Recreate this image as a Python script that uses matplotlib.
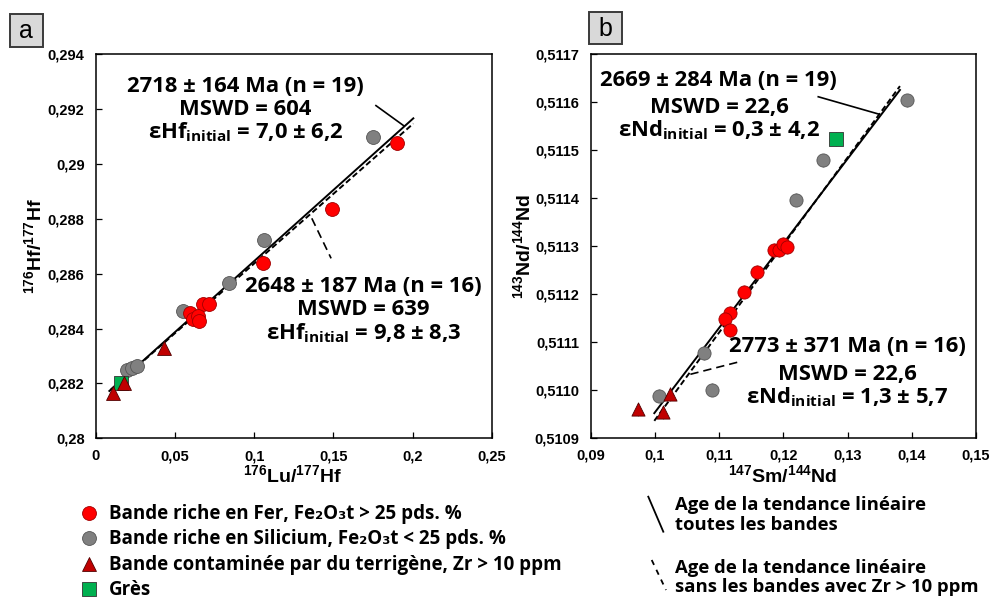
import matplotlib
matplotlib.use("Agg")
import matplotlib.pyplot as plt
from matplotlib.patches import Rectangle
from matplotlib.ticker import MultipleLocator, FuncFormatter

plt.rcParams.update({
    "font.family": ["Liberation Sans", "DejaVu Sans"],
    "font.weight": "bold",
    "mathtext.fontset": "custom",
    "mathtext.rm": "Open Sans:bold",
    "mathtext.bf": "Open Sans:bold",
    "mathtext.sf": "Liberation Sans:bold",
})

ANNOT_FONT = ["Open Sans", "DejaVu Sans"]

# --- Panel a : Lu-Hf -------------------------------------------------------
lu_fe_x = [0.1904, 0.1492, 0.1054, 0.0677, 0.0717, 0.0595, 0.0612, 0.0646, 0.0654]
hf_fe_y = [0.29076, 0.28837, 0.28638, 0.28489, 0.28489, 0.28456, 0.28435, 0.28446, 0.28428]
lu_si_x = [0.1751, 0.1064, 0.0844, 0.0549, 0.0200, 0.0232, 0.0262]
hf_si_y = [0.29097, 0.28724, 0.28566, 0.28465, 0.28249, 0.28256, 0.28264]
lu_zr_x = [0.0429, 0.0179, 0.0111]
hf_zr_y = [0.28328, 0.28203, 0.28166]
lu_gr_x = [0.0158]
hf_gr_y = [0.28200]

# fit lines (slope, intercept, x range)
hf_all_fit = (0.0518, 0.28128, (0.0086, 0.2005))
hf_nozr_fit = (0.0508, 0.28129, (0.0096, 0.2005))
hf_lead_all = ([0.1769, 0.1946], [0.29213, 0.29139])
hf_lead_nozr = ([0.1364, 0.1486], [0.28802, 0.28656])

# --- Panel b : Sm-Nd -------------------------------------------------------
sm_fe_x = [0.11858, 0.11925, 0.11987, 0.12059, 0.11596, 0.11389, 0.11163, 0.11086, 0.11163]
nd_fe_y = [0.511292, 0.511292, 0.511304, 0.511297, 0.511246, 0.511205, 0.511160, 0.511147, 0.511125]
sm_si_x = [0.13923, 0.1261, 0.1219, 0.1076, 0.1089, 0.1007]
nd_si_y = [0.511604, 0.511479, 0.511397, 0.511076, 0.511000, 0.510988]
sm_zr_x = [0.1023, 0.10133, 0.09742]
nd_zr_y = [0.510991, 0.510953, 0.510959]
sm_gr_x = [0.12826]
nd_gr_y = [0.511523]
nd_err = 0.000014

nd_all_fit = (0.01763, 0.509190, (0.0999, 0.13815))
nd_nozr_fit = (0.01826, 0.509111, (0.0999, 0.13815))
nd_lead_all = ([0.12543, 0.13481], [0.5116114, 0.5115754])
nd_lead_nozr = ([0.11281, 0.10508], [0.5110573, 0.5110308])

RED = "#ff0000"
GRAY = "#808080"
DRED = "#c00000"
GREEN = "#00b050"


def comma_fmt(fmt):
    return FuncFormatter(lambda v, p: fmt.format(v).replace(".", ","))


def draw_points(ax, groups, size):
    for x, y, marker, color, edge in groups:
        ax.scatter(x, y, s=size, marker=marker, color=color, edgecolors=edge,
                   linewidths=0.6, zorder=4)


def draw_fits(ax, fit_all, fit_nozr, lead_all, lead_nozr):
    for (m, b, (x0, x1)), ls, lw in [(fit_nozr, (0, (3, 1.6)), 1.4), (fit_all, "-", 1.4)]:
        ax.plot([x0, x1], [b + m * x0, b + m * x1], color="black", ls=ls, lw=lw, zorder=3)
    ax.plot(*lead_all, color="black", lw=1.2, zorder=3)
    ax.plot(*lead_nozr, color="black", lw=1.2, ls=(0, (5, 3)), zorder=3)


def style_axes(ax):
    for sp in ax.spines.values():
        sp.set_linewidth(1.1)
    ax.tick_params(direction="in", length=4, width=0.9, labelsize=10.5, pad=8)
    for lab in ax.get_xticklabels() + ax.get_yticklabels():
        lab.set_fontweight("bold")


def annot(ax, x, y, s):
    ax.text(x, y, s, transform=ax.transAxes, ha="center", va="baseline",
            fontsize=15.8, fontweight="bold", family=ANNOT_FONT, zorder=5)


fig = plt.figure(figsize=(9.91, 6.0), dpi=100)

# ---------------- panel a
ax1 = fig.add_axes([0.0966, 0.2695, 0.3996, 0.64])
draw_fits(ax1, hf_all_fit, hf_nozr_fit, hf_lead_all, hf_lead_nozr)
draw_points(ax1, [
    (lu_si_x, hf_si_y, "o", GRAY, "#555555"),
    (lu_fe_x, hf_fe_y, "o", RED, "#a00000"),
    (lu_gr_x, hf_gr_y, "s", GREEN, "#333333"),
    (lu_zr_x, hf_zr_y, "^", DRED, "#500000"),
], 100)
ax1.set_xlim(0, 0.25)
ax1.set_ylim(0.28, 0.294)
ax1.xaxis.set_major_locator(MultipleLocator(0.05))
ax1.yaxis.set_major_locator(MultipleLocator(0.002))
ax1.xaxis.set_major_formatter(comma_fmt("{:g}"))
ax1.yaxis.set_major_formatter(comma_fmt("{:g}"))
style_axes(ax1)
ax1.set_xlabel(r"$^{\mathsf{176}}$Lu/$^{\mathsf{177}}$Hf", fontsize=14, fontweight="bold", va="baseline")
ax1.xaxis.set_label_coords(0.497, -0.117)
ax1.set_ylabel(r"$^{\mathsf{176}}$Hf/$^{\mathsf{177}}$Hf", fontsize=14, fontweight="bold")
ax1.yaxis.set_label_coords(-0.125, 0.5)

annot(ax1, 0.378, 0.9026, "2718 ± 164 Ma (n = 19)")
annot(ax1, 0.378, 0.842, "MSWD = 604")
annot(ax1, 0.378, 0.781, r"εHf$_{\mathrm{initial}}$ = 7,0 ± 6,2")
annot(ax1, 0.676, 0.380, "2648 ± 187 Ma (n = 16)")
annot(ax1, 0.676, 0.321, "MSWD = 639")
annot(ax1, 0.676, 0.2586, r"εHf$_{\mathrm{initial}}$ = 9,8 ± 8,3")

# ---------------- panel b
ax2 = fig.add_axes([0.5961, 0.2705, 0.3888, 0.639])
draw_fits(ax2, nd_all_fit, nd_nozr_fit, nd_lead_all, nd_lead_nozr)
for x, y in [(sm_si_x, nd_si_y), (sm_fe_x, nd_fe_y), (sm_gr_x, nd_gr_y), (sm_zr_x, nd_zr_y)]:
    ax2.errorbar(x, y, yerr=nd_err, fmt="none", ecolor="#8c8c8c", elinewidth=0.8, zorder=3.5)
draw_points(ax2, [
    (sm_si_x, nd_si_y, "o", GRAY, "#555555"),
    (sm_fe_x, nd_fe_y, "o", RED, "#a00000"),
    (sm_gr_x, nd_gr_y, "s", GREEN, "#333333"),
    (sm_zr_x, nd_zr_y, "^", DRED, "#500000"),
], 90)
ax2.set_xlim(0.09, 0.15)
ax2.set_ylim(0.5109, 0.5117)
ax2.xaxis.set_major_locator(MultipleLocator(0.01))
ax2.yaxis.set_major_locator(MultipleLocator(0.0001))
ax2.xaxis.set_major_formatter(comma_fmt("{:g}"))
ax2.yaxis.set_major_formatter(comma_fmt("{:.4f}"))
style_axes(ax2)
ax2.set_xlabel(r"$^{\mathsf{147}}$Sm/$^{\mathsf{144}}$Nd", fontsize=14, fontweight="bold", va="baseline")
ax2.xaxis.set_label_coords(0.497, -0.118)
ax2.set_ylabel(r"$^{\mathsf{143}}$Nd/$^{\mathsf{144}}$Nd", fontsize=14, fontweight="bold")
ax2.yaxis.set_label_coords(-0.145, 0.5)

annot(ax2, 0.332, 0.9173, "2669 ± 284 Ma (n = 19)")
annot(ax2, 0.335, 0.846, "MSWD = 22,6")
annot(ax2, 0.334, 0.785, r"εNd$_{\mathrm{initial}}$ = 0,3 ± 4,2")
annot(ax2, 0.665, 0.2227, "2773 ± 371 Ma (n = 16)")
annot(ax2, 0.665, 0.1505, "MSWD = 22,6")
annot(ax2, 0.666, 0.0897, r"εNd$_{\mathrm{initial}}$ = 1,3 ± 5,7")

# ---------------- overlay in pixel units: panel tags and legends
lay = fig.add_axes([0, 0, 1, 1], facecolor="none")
lay.set_xlim(0, 991)
lay.set_ylim(600, 0)
lay.axis("off")

for tag, (x0, y0) in [("a", (10, 14)), ("b", (589, 11.7))]:
    lay.add_patch(Rectangle((x0, y0), 32.5, 32.5, facecolor="#d9d9d9",
                            edgecolor="#3a3a3a", lw=1.4))
    lay.text(x0 + 16.2, y0 + 17.5, tag, ha="center", va="center", fontsize=18,
             fontweight="normal", family=["Liberation Sans"])

legend_items = [
    ("o", RED, "#a00000", "Bande riche en Fer, Fe₂O₃t > 25 pds. %"),
    ("o", GRAY, "#555555", "Bande riche en Silicium, Fe₂O₃t < 25 pds. %"),
    ("^", DRED, "#500000", "Bande contaminée par du terrigène, Zr > 10 ppm"),
    ("s", GREEN, "#333333", "Grès"),
]
for i, (mk, fc, ec, label) in enumerate(legend_items):
    base = 519 + 25.3 * i
    lay.scatter([89], [base - 6], s=100, marker=mk, color=fc, edgecolors=ec,
                linewidths=0.6, clip_on=False)
    lay.text(109, base, label, ha="left", va="baseline", fontsize=13.5,
             fontweight="bold", family=ANNOT_FONT)

lay.plot([648.3, 663.3], [496.7, 531.7], color="black", lw=1.3)
lay.plot([651.7, 666], [560, 590], color="black", lw=1.3, ls=(0, (3, 3)))
for y, s in [(510, "Age de la tendance linéaire"), (530, "toutes les bandes"),
             (573, "Age de la tendance linéaire"),
             (592, "sans les bandes avec Zr > 10 ppm")]:
    lay.text(675, y, s, ha="left", va="baseline", fontsize=13.3,
             fontweight="bold", family=ANNOT_FONT)

fig.savefig("out.png", dpi=100, facecolor="white")
